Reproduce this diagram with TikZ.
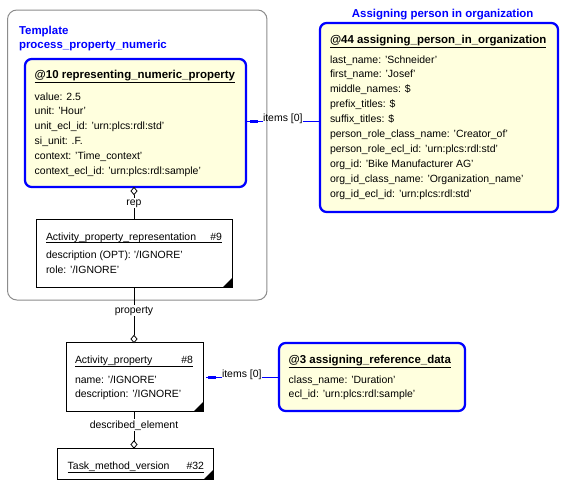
\documentclass[tikz,border=0pt]{standalone}
\usepackage{fontspec}
\setmainfont{Liberation Sans}
\usetikzlibrary{shapes.geometric}
\definecolor{eblue}{RGB}{0,0,255}
\definecolor{eyellow}{RGB}{255,255,222}
\definecolor{tgray}{RGB}{140,140,140}
\begin{document}
\begin{tikzpicture}[x=0.75pt,y=-0.75pt,
  every node/.style={inner sep=0pt, outer sep=0pt},
  attr/.style={anchor=base west, font=\fontsize{7.85}{9}\selectfont},
  ttl/.style={anchor=base west, font=\fontsize{8.6}{10}\selectfont\bfseries},
  lbl/.style={anchor=base, font=\fontsize{7.85}{9}\selectfont, fill=white, inner sep=0.8pt},
  bluebox/.style={draw=eblue, line width=1.7pt, fill=eyellow, rounded corners=5pt, anchor=north west},
  plainbox/.style={draw=black, line width=0.75pt, fill=white, anchor=north west},
  tmplbox/.style={draw=tgray, line width=0.75pt, rounded corners=7pt, anchor=north west},
  uline/.style={line width=0.75pt},
  conn/.style={line width=0.75pt},
  bconn/.style={line width=0.75pt, draw=eblue},
  dia/.style={draw, diamond, fill=white, line width=0.6pt, minimum width=4.5pt, minimum height=5.5pt, inner sep=0pt}
]
\fill[white] (0,0) rectangle (572,489);
\useasboundingbox (0,0) rectangle (572,489);

% Template frame
\node[tmplbox, minimum width=194.6pt, minimum height=217.5pt] (tmpl) at (7.5,10) {};
\node[ttl, text=eblue] (tt1) at (19,34) {Template};
\node[ttl, text=eblue] (tt2) at (19,48) {process\_property\_numeric};

% @10 box
\node[bluebox, minimum width=165.75pt, minimum height=96pt] (n10) at (25,59) {};
\node[ttl] (n10t) at (34.7,79) {@10 representing\_numeric\_property};
\draw[uline] ([yshift=-2.6pt]n10t.base west) -- ([yshift=-2.6pt]n10t.base east);
\node[attr] (n10a1) at (34.7,100) {value: 2.5};
\node[attr] (n10a2) at (34.7,114.8) {unit: 'Hour'};
\node[attr] (n10a3) at (34.7,129.6) {unit\_ecl\_id: 'urn:plcs:rdl:std'};
\node[attr] (n10a4) at (34.7,144.4) {si\_unit: .F.};
\node[attr] (n10a5) at (34.7,159.2) {context: 'Time\_context'};
\node[attr] (n10a6) at (34.7,174) {context\_ecl\_id: 'urn:plcs:rdl:sample'};

% @44 box
\node[ttl, anchor=base, text=eblue] (l44) at (442.7,17) {Assigning person in organization};
\node[bluebox, minimum width=178.5pt, minimum height=141.75pt] (n44) at (320,23) {};
\node[ttl] (n44t) at (330,43) {@44 assigning\_person\_in\_organization};
\draw[uline] ([yshift=-3pt]n44t.base west) -- ([yshift=-3pt]n44t.base east);
\node[attr] (n44a1) at (330,63) {last\_name: 'Schneider'};
\node[attr] (n44a2) at (330,77.9) {first\_name: 'Josef'};
\node[attr] (n44a3) at (330,92.8) {middle\_names: \$};
\node[attr] (n44a4) at (330,107.7) {prefix\_titles: \$};
\node[attr] (n44a5) at (330,122.6) {suffix\_titles: \$};
\node[attr] (n44a6) at (330,137.5) {person\_role\_class\_name: 'Creator\_of'};
\node[attr] (n44a7) at (330,152.4) {person\_role\_ecl\_id: 'urn:plcs:rdl:std'};
\node[attr] (n44a8) at (330,167.3) {org\_id: 'Bike Manufacturer AG'};
\node[attr] (n44a9) at (330,182.2) {org\_id\_class\_name: 'Organization\_name'};
\node[attr] (n44a10) at (330,197.1) {org\_id\_ecl\_id: 'urn:plcs:rdl:std'};

% Activity_property_representation #9
\node[plainbox, minimum width=147pt, minimum height=51pt] (apr) at (36,219) {};
\node[attr] (aprt) at (46,240) {Activity\_property\_representation};
\node[attr, anchor=base east] (aprn) at (222,240) {\#9};
\draw[uline] ([yshift=-2pt]aprt.base west) -- ([yshift=-2pt]aprn.base east);
\node[attr] (apra1) at (46,258) {description (OPT): '/IGNORE'};
\node[attr] (apra2) at (46,273) {role: '/IGNORE'};
\fill (apr.south east) -- ++(-9,0) -- ++(9,-9) -- cycle;

% Activity_property #8
\node[plainbox, minimum width=102.75pt, minimum height=51.75pt] (ap) at (66,342) {};
\node[attr] (apt) at (75,363) {Activity\_property};
\node[attr, anchor=base east] (apn) at (193,363) {\#8};
\draw[uline] ([yshift=-2.6pt]apt.base west) -- ([yshift=-2.6pt]apn.base east);
\node[attr] (apa1) at (75,383) {name: '/IGNORE'};
\node[attr] (apa2) at (75,397.7) {description: '/IGNORE'};
\fill (ap.south east) -- ++(-9,0) -- ++(9,-9) -- cycle;

% Task_method_version #32
\node[plainbox, minimum width=117pt, minimum height=23.25pt] (tmv) at (57,448) {};
\node[attr] (tmvt) at (67.7,469) {Task\_method\_version};
\node[attr, anchor=base east] (tmvn) at (204,469) {\#32};
\draw[uline] ([yshift=-2.6pt]tmvt.base west) -- ([yshift=-2.6pt]tmvn.base east);
\fill (tmv.south east) -- ++(-9,0) -- ++(9,-9) -- cycle;

% @3 box
\node[bluebox, minimum width=139.5pt, minimum height=51pt] (n3) at (279,343) {};
\node[ttl] (n3t) at (288.7,363) {@3 assigning\_reference\_data};
\draw[uline] ([yshift=-3pt]n3t.base west) -- ([yshift=-3pt]n3t.base east);
\node[attr] (n3a1) at (288.7,383) {class\_name: 'Duration'};
\node[attr] (n3a2) at (288.7,397.7) {ecl\_id: 'urn:plcs:rdl:sample'};

% rep connector
\node[dia] (d1) at (134,191) {};
\draw[conn] (d1.south) -- (d1.south |- apr.north);
\node[lbl] (lrep) at (134,205) {rep};

% property connector
\node[dia] (d2) at (134,339) {};
\draw[conn] (d2.north) -- (d2.north |- apr.south);
\node[lbl] (lprop) at (134,313) {property};

% described_element connector
\node[dia] (d3) at (134,444.5) {};
\draw[conn] (d3.north) -- (d3.north |- ap.south);
\node[lbl] (ldesc) at (134,428) {described\_element};

% items connector top
\node[attr] (it1) at (263,121.5) {items [0]};
\draw[bconn] (it1.base east) -- (n44.west |- it1.base east);
\draw[bconn] (it1.base west) -- ([xshift=0.6pt]n10.east |- it1.base west);
\coordinate (sq1) at ([xshift=3pt]n10.east |- it1.base west);
\fill[eblue] ([yshift=-1.3pt]sq1) rectangle ([xshift=6pt,yshift=1.1pt]sq1);

% items connector bottom
\node[attr] (it2) at (222,377.5) {items [0]};
\draw[bconn] (it2.base east) -- (n3.west |- it2.base east);
\draw[bconn] (it2.base west) -- ([xshift=2pt]ap.east |- it2.base west);
\coordinate (sq2) at ([xshift=4pt]ap.east |- it2.base west);
\fill[eblue] ([yshift=-1.3pt]sq2) rectangle ([xshift=6pt,yshift=1.1pt]sq2);
\end{tikzpicture}
\end{document}
